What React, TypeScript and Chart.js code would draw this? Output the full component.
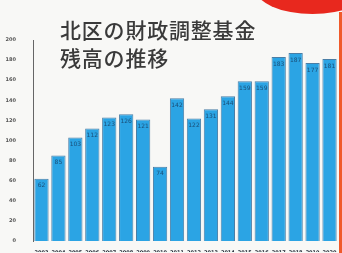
import React, { useEffect, useRef } from "react";
import { Chart, registerables } from "chart.js";

Chart.register(...registerables);

const years = ["2003","2004","2005","2006","2007","2008","2009","2010","2011","2012","2013","2014","2015","2016","2017","2018","2019","2020"];
const balances = [62, 85, 103, 112, 123, 126, 121, 74, 142, 122, 131, 144, 159, 159, 183, 187, 177, 181];
const yTicks = [0, 20, 40, 60, 80, 100, 120, 140, 160, 180, 200];
const titleLines = ["北区の財政調整基金", "残高の推移"];

const valueLabels = {
  id: "valueLabels",
  afterDatasetsDraw(chart: any) {
    const ctx = chart.ctx;
    const meta = chart.getDatasetMeta(0);
    ctx.save();
    ctx.font = "6px 'DejaVu Sans'";
    ctx.fillStyle = "#1a4f78";
    ctx.textAlign = "center";
    ctx.textBaseline = "top";
    meta.data.forEach((bar: any, i: number) => {
      ctx.fillText(String(balances[i]), bar.x, bar.y + 4);
    });
    ctx.restore();
  },
};

export default function App() {
  const ref = useRef<HTMLCanvasElement>(null);
  useEffect(() => {
    document.body.style.margin = "0";
    const chart = new Chart(ref.current!, {
      type: "bar",
      data: {
        labels: years,
        datasets: [
          {
            data: balances,
            backgroundColor: "#2ba4e4",
            borderColor: "#4a7ea6",
            borderWidth: 1,
            categoryPercentage: 0.86,
            barPercentage: 0.98,
          },
        ],
      },
      options: {
        responsive: false,
        animation: false,
        layout: { padding: { top: 40, right: 4, left: 2, bottom: 0 } },
        plugins: { legend: { display: false }, tooltip: { enabled: false } },
        scales: {
          x: {
            grid: { display: false },
            border: { display: false },
            ticks: {
              font: { size: 5, family: "DejaVu Sans", weight: "bold" },
              color: "#1c2430",
              maxRotation: 0,
              autoSkip: false,
              padding: 1,
            },
            afterFit(scale: any) {
              scale.height = 11;
            },
          },
          y: {
            min: 0,
            max: 200,
            afterBuildTicks(scale: any) {
              scale.ticks = yTicks.map((v) => ({ value: v }));
            },
            grid: { display: false },
            border: { display: true, color: "#666", width: 1 },
            ticks: {
              font: { size: 5, family: "DejaVu Sans", weight: "bold" },
              color: "#555",
              padding: 9,
            },
            afterFit(scale: any) {
              scale.width = 31;
            },
          },
        },
      },
      plugins: [valueLabels],
    });
    return () => chart.destroy();
  }, []);

  return (
    <div style={{ position: "relative", width: 342, height: 253, background: "#f8f8f6", overflow: "hidden" }}>
      <canvas ref={ref} width={342} height={253} style={{ position: "absolute", left: 0, top: 0 }} />
      <div
        style={{
          position: "absolute",
          left: 255,
          top: -38,
          width: 115,
          height: 52,
          borderRadius: "50%",
          background: "#e8281e",
        }}
      />
      <div
        style={{
          position: "absolute",
          left: 339,
          top: 12,
          width: 4,
          height: 241,
          background: "#f05a2a",
        }}
      />
      {titleLines.map((t, i) => (
        <div
          key={i}
          style={{
            position: "absolute",
            left: 60,
            top: i === 0 ? 17 : 45,
            fontFamily: "'Noto Sans CJK JP'",
            fontWeight: 500,
            fontSize: 21,
            lineHeight: "24px",
            color: "#3a3a3a",
            whiteSpace: "nowrap",
            letterSpacing: 0.8,
          }}
        >
          {t}
        </div>
      ))}
    </div>
  );
}
